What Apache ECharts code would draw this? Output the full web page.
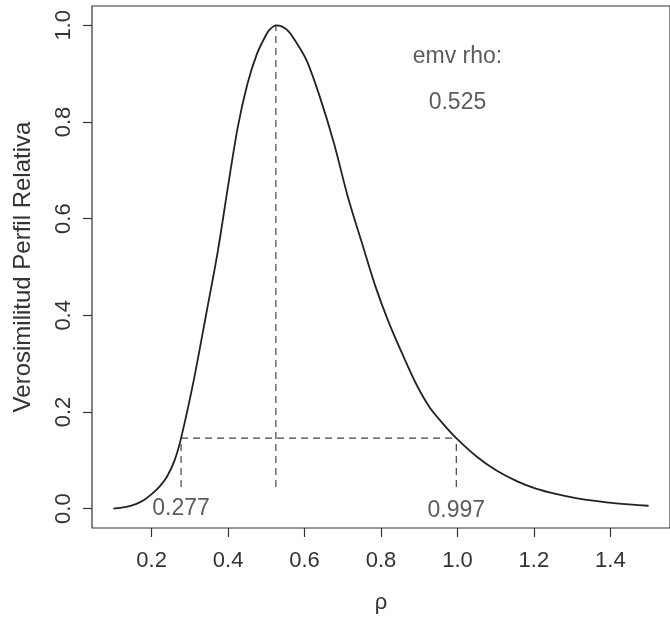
<!DOCTYPE html>
<html>
<head>
<meta charset="utf-8">
<script src="https://cdn.jsdelivr.net/npm/echarts@6/dist/echarts.min.js"></script>
<style>
  html, body { margin: 0; padding: 0; background: #ffffff; }
  #chart { width: 670px; height: 621px; }
</style>
</head>
<body>
<div id="chart"></div>
<script>
// ---- data ----
const rhoValues = [0.10, 0.13, 0.16, 0.18, 0.20, 0.22, 0.24, 0.26, 0.277, 0.31, 0.344, 0.373, 0.40, 0.425, 0.45, 0.475, 0.50, 0.51, 0.525, 0.54, 0.555, 0.57, 0.605, 0.64, 0.677, 0.713, 0.75, 0.785, 0.82, 0.857, 0.892, 0.927, 0.963, 0.997, 1.05, 1.10, 1.155, 1.207, 1.26, 1.31, 1.36, 1.415, 1.50];
const likValues = [0.000, 0.003, 0.010, 0.018, 0.030, 0.045, 0.066, 0.100, 0.146, 0.265, 0.408, 0.532, 0.668, 0.788, 0.877, 0.940, 0.981, 0.992, 1.000, 0.998, 0.990, 0.975, 0.928, 0.852, 0.756, 0.646, 0.550, 0.461, 0.386, 0.318, 0.258, 0.210, 0.175, 0.146, 0.108, 0.080, 0.057, 0.041, 0.030, 0.022, 0.016, 0.011, 0.006];
const emvRho = 0.525;
const ciLow = 0.277;
const ciHigh = 0.997;
const cutLevel = 0.146;
const dashBottom = 0.045;
const xTicks = [0.2, 0.4, 0.6, 0.8, 1.0, 1.2, 1.4];
const yTicks = [0.0, 0.2, 0.4, 0.6, 0.8, 1.0];
const annotations = [
  { x: ciLow, y: 0.0, text: '0.277' },
  { x: ciHigh, y: -0.005, text: '0.997' },
  { x: 1.0, y: 0.935, text: 'emv rho:' },
  { x: 1.0, y: 0.84, text: '0.525' }
];

const FONT = '"Liberation Sans", Arial, sans-serif';
const TXT = '#333333';

const curve = rhoValues.map((r, i) => [r, likValues[i]]);
const dashStyle = { color: '#444', width: 1.2, type: [7, 5] };
function seg(a, b) {
  return { type: 'line', data: [a, b], symbol: 'none', silent: true,
           lineStyle: dashStyle, z: 2 };
}

const chart = echarts.init(document.getElementById('chart'), null, { renderer: 'canvas' });
chart.setOption({
  backgroundColor: '#ffffff',
  animation: false,
  grid: { left: 92, right: -4, top: 6, bottom: 93, show: true,
          borderColor: '#333', borderWidth: 1.2, backgroundColor: 'transparent' },
  xAxis: {
    type: 'value', min: 0.044, max: 1.556,
    name: 'ρ', nameLocation: 'middle', nameGap: 64,
    nameTextStyle: { fontFamily: FONT, fontSize: 22, color: TXT },
    axisLine: { show: false, onZero: false },
    splitLine: { show: false },
    axisTick: { show: true, length: 9, inside: false, customValues: xTicks,
                lineStyle: { color: '#333', width: 1.2 } },
    axisLabel: { customValues: xTicks, margin: 22, fontFamily: FONT, fontSize: 22, color: TXT,
                 formatter: v => v.toFixed(1) }
  },
  yAxis: {
    type: 'value', min: -0.04, max: 1.04,
    name: 'Verosimilitud Perfil Relativa', nameLocation: 'middle', nameGap: 57,
    nameTextStyle: { fontFamily: FONT, fontSize: 24, color: TXT },
    axisLine: { show: false, onZero: false },
    splitLine: { show: false },
    axisTick: { show: true, length: 9, inside: false, customValues: yTicks,
                lineStyle: { color: '#333', width: 1.2 } },
    axisLabel: { customValues: yTicks, rotate: 90, margin: 17, fontFamily: FONT, fontSize: 22, color: TXT,
                 formatter: v => v.toFixed(1) }
  },
  series: [
    { type: 'line', data: curve, symbol: 'none', smooth: 0.3, silent: true,
      lineStyle: { color: '#222', width: 1.8 }, z: 3 },
    seg([emvRho, dashBottom], [emvRho, 1.0]),
    seg([ciLow, cutLevel], [ciHigh, cutLevel]),
    seg([ciLow, dashBottom], [ciLow, cutLevel]),
    seg([ciHigh, dashBottom], [ciHigh, cutLevel]),
    { type: 'scatter', symbolSize: 0, silent: true, z: 5,
      data: annotations.map(a => ({ value: [a.x, a.y], name: a.text })),
      label: { show: true, position: 'inside', formatter: p => p.name,
               fontFamily: FONT, fontSize: 23, color: TXT } }
  ]
});
</script>
</body>
</html>
